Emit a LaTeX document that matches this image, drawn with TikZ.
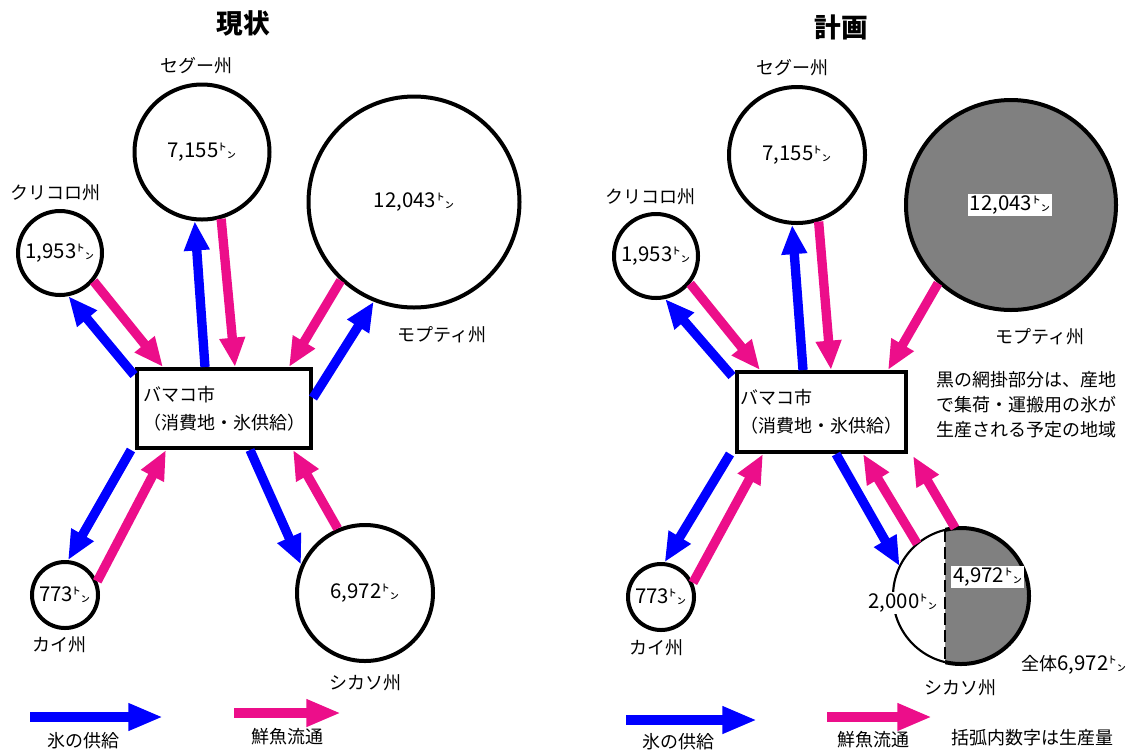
\documentclass[tikz,border=0pt]{standalone}
\usepackage{fontspec}
\setmainfont{Noto Sans CJK JP}
\usetikzlibrary{arrows.meta,calc}
\definecolor{icecol}{RGB}{0,0,255}
\definecolor{fishcol}{RGB}{236,14,138}
\definecolor{netgray}{RGB}{128,128,128}
\newcommand{\amt}[1]{{\fontsize{15.3pt}{18pt}\selectfont #1}㌧}
\begin{document}
\begin{tikzpicture}[x=0.75pt,y=-0.75pt,
  every node/.style={font=\fontsize{13.5pt}{18.75pt}\selectfont, inner sep=0pt},
  region/.style={circle, draw, line width=3pt, minimum size=#1, fill=white},
  city/.style={draw, line width=3pt, fill=white, align=left,
    font=\fontsize{13.5pt}{21pt}\selectfont},
  ice/.style={draw=icecol, line width=7pt, -{Triangle[length=22pt,width=18pt]}},
  fish/.style={draw=fishcol, line width=7pt, -{Triangle[length=22pt,width=18pt]}},
  keyice/.style={draw=icecol, line width=7.5pt, -{Triangle[length=26pt,width=19pt]}},
  keyfish/.style={draw=fishcol, line width=7.5pt, -{Triangle[length=26pt,width=19pt]}},
  heading/.style={font=\fontsize{20pt}{24pt}\selectfont\bfseries},
  tag/.style={fill=white, inner sep=1.5pt},
  ]
\useasboundingbox (0,0) rectangle (1130,751);

% ================= LEFT: 現状 =================
\node[heading] (titleL) at (243,23) {現状};

\node[region=63pt]     (kouL) at (60,253)  {\amt{1,953}};
\node[region=101.25pt] (segL) at (202,152) {\amt{7,155}};
\node[region=158.25pt] (mopL) at (414,202) {\amt{12,043}};
\node[region=49.5pt]   (kaiL) at (65,595)  {\amt{773}};
\node[region=102pt]    (shiL) at (365,593) {\amt{6,972}};
\node[city, minimum width=130.5pt, minimum height=59.25pt] (boxL) at (224,408.5)
  {バマコ市\\（消費地・氷供給）};

\node (segLn) at (196,66)  {セグー州};
\node (kouLn) at (55,193)  {クリコロ州};
\node (mopLn) at (442,335) {モプティ州};
\node (kaiLn) at (59,645)  {カイ州};
\node (shiLn) at (365,683) {シカソ州};

% arrows left
\draw[ice]  ($(boxL.north west)+(-1,8)$) -- (kouL.-79);
\draw[fish] (kouL.-40) -- ($(boxL.north west)+(28,0)$);
\draw[ice]  ($(boxL.north west)+(70,0)$) -- (segL.-96);
\draw[fish] (segL.-74) -- ($(boxL.north west)+(100,0)$);
\draw[fish] (mopL.-133) -- ($(boxL.north west)+(154,0)$);
\draw[ice]  ($(boxL.north east)+(0,31)$) -- (mopL.-112);
\draw[ice]  ($(boxL.south west)+(-4,0)$) -- (kaiL.85);
\draw[fish] (kaiL.23) -- ($(boxL.south west)+(31,0)$);
\draw[ice]  ($(boxL.south west)+(115,0)$) -- (shiL.156);
\draw[fish] (shiL.113) -- ($(boxL.south west)+(158,0)$);

% legend left
\coordinate (k1a) at (30,717);  \coordinate (k1b) at (163,717);
\coordinate (k2a) at (234,713); \coordinate (k2b) at (341,713);
\draw[keyice]  (k1a) -- (k1b);
\draw[keyfish] (k2a) -- (k2b);
\node (k1t) at (83,741)  {氷の供給};
\node (k2t) at (287,737) {鮮魚流通};

% ================= RIGHT: 計画 =================
\node[heading] (titleR) at (841,27) {計画};

\node[region=63pt]   (kouR) at (656,256) {\amt{1,953}};
\node[region=102pt]  (segR) at (797,155) {\amt{7,155}};
\node[region=157.5pt, fill=netgray] (mopR) at (1011,205) {};
\node[tag] (mopRt) at (1010,205) {\amt{12,043}};
\node[region=49.5pt] (kaiR) at (661,597) {\amt{773}};
\node[circle, minimum size=102pt] (shiR) at (961,596) {};
\node[city, minimum width=126.75pt, minimum height=60pt] (boxR) at (821.5,412)
  {バマコ市\\（消費地・氷供給）};

% split circle (Sikasso plan)
\begin{scope}
  \clip (945,0) rectangle (1130,751);
  \fill[netgray] (shiR.center) circle[radius=51pt];
  \draw[line width=3pt] (shiR.center) circle[radius=51pt];
\end{scope}
\begin{scope}
  \clip (0,0) rectangle (945,751);
  \fill[white] (shiR.center) circle[radius=51pt];
  \draw[line width=1.6pt] (shiR.center) circle[radius=51pt];
\end{scope}
\draw[line width=2.2pt, dash pattern=on 9pt off 3.5pt] (945,530) -- (945,662);
\node[tag, anchor=west] (shiRa) at (951,577) {\amt{4,972}};
\node[tag] (shiRb) at (903,603) {\amt{2,000}};

\node (segRn) at (792,68)  {セグー州};
\node (kouRn) at (650,197) {クリコロ州};
\node (mopRn) at (1040,337) {モプティ州};
\node (kaiRn) at (656,648) {カイ州};
\node (shiRn) at (960,688) {シカソ州};
\node (totR)  at (1074,665) {全体\amt{6,972}};
\node[align=left] (note) at (1026,405)
  {黒の網掛部分は、産地\\で集荷・運搬用の氷が\\生産される予定の地域};

% arrows right
\draw[ice]  ($(boxR.north west)+(-3,6)$) -- (kouR.-78);
\draw[fish] (kouR.-39) -- ($(boxR.north west)+(25,0)$);
\draw[ice]  ($(boxR.north west)+(68,0)$) -- (segR.-94);
\draw[fish] (segR.-72) -- ($(boxR.north west)+(96,0)$);
\draw[fish] (mopR.-133) -- ($(boxR.north west)+(153,0)$);
\draw[ice]  ($(boxR.south west)+(-5,0)$) -- (kaiR.84);
\draw[fish] (kaiR.24) -- ($(boxR.south west)+(28,0)$);
\draw[ice]  ($(boxR.south west)+(101,0)$) -- (shiR.154);
\draw[fish] (shiR.130) -- ($(boxR.south west)+(128,0)$);
\draw[fish] (shiR.95) -- ($(boxR.south east)+(5,2)$);

% legend right
\coordinate (k3a) at (626,720); \coordinate (k3b) at (757,720);
\coordinate (k4a) at (827,717); \coordinate (k4b) at (932,717);
\draw[keyice]  (k3a) -- (k3b);
\draw[keyfish] (k4a) -- (k4b);
\node (k3t) at (678,742)  {氷の供給};
\node (k4t) at (873,740)  {鮮魚流通};
\node (k5t) at (1032,738) {括弧内数字は生産量};
\end{tikzpicture}
\end{document}
